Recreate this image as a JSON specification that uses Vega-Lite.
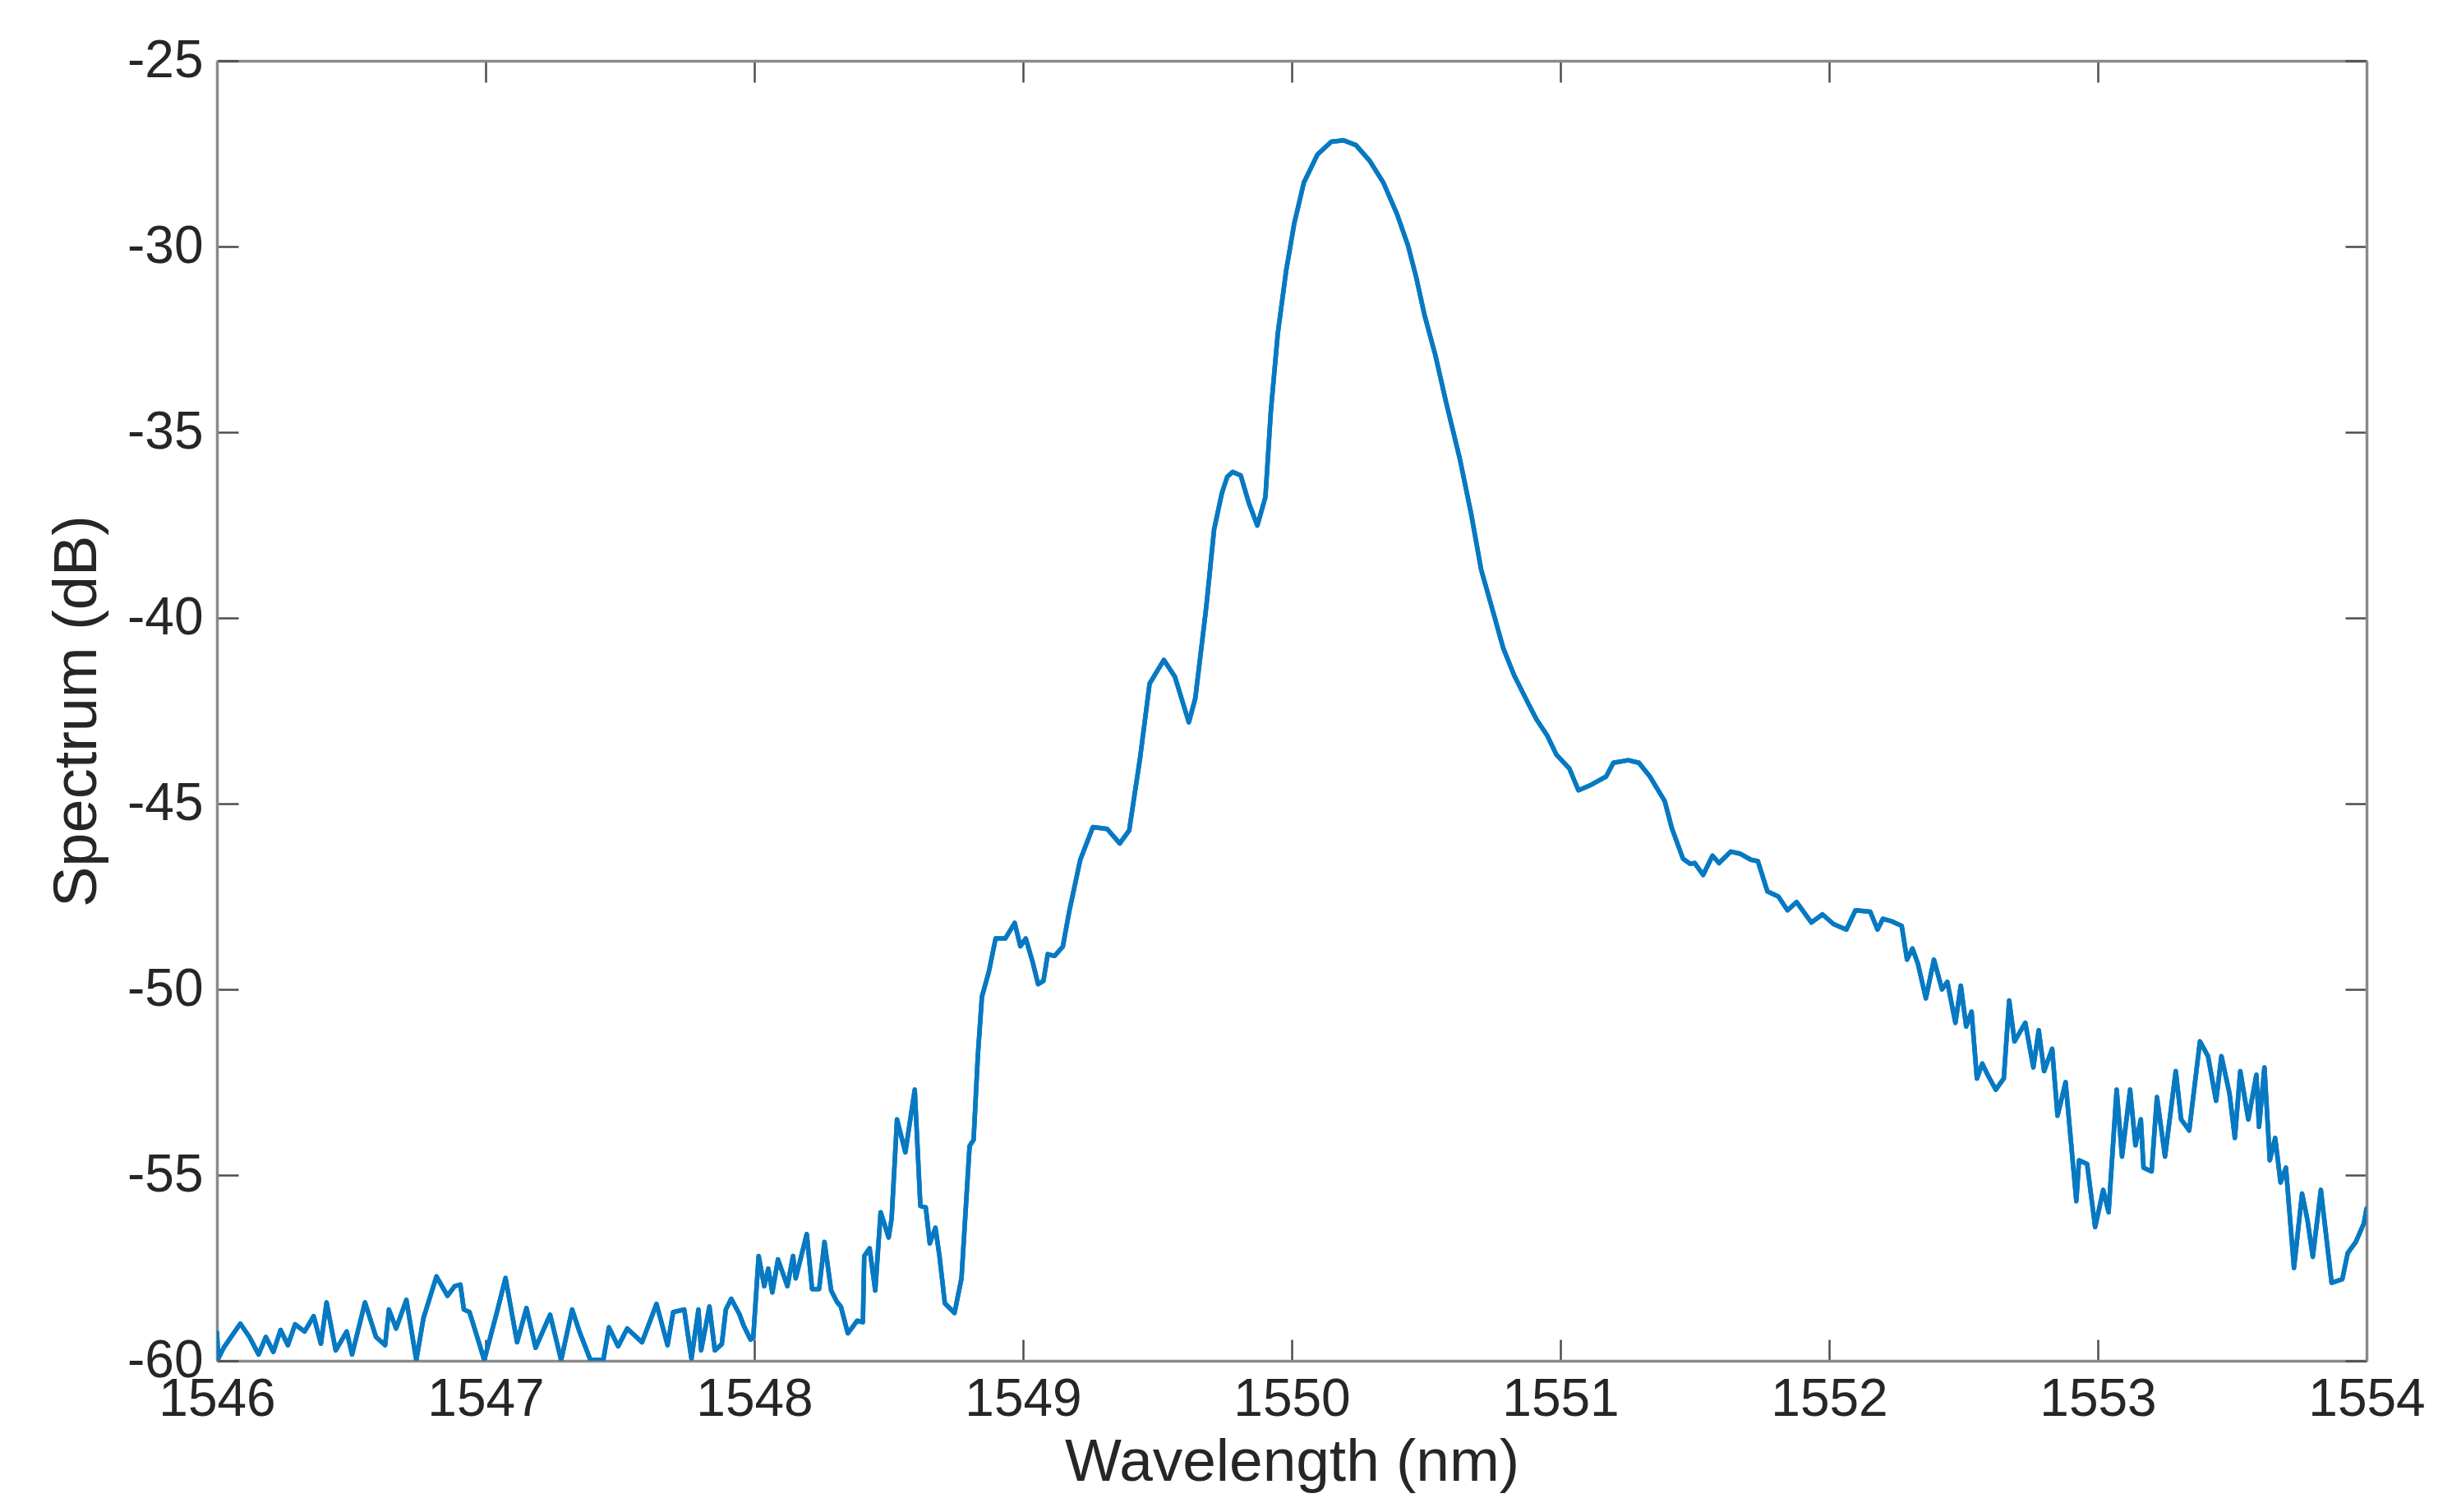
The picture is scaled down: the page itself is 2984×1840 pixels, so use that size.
{
  "$schema": "https://vega.github.io/schema/vega-lite/v6.json",
  "width": 2616,
  "height": 1582,
  "autosize": {"type": "none"},
  "padding": {"left": 264, "top": 74, "right": 104, "bottom": 184},
  "background": "white",
  "config": {"view": {"stroke": null}, "font": "Liberation Sans"},
  "data": {"values": [
    {"wl":1546.000,"db":-59.24},{"wl":1546.005,"db":-59.94},{"wl":1546.025,"db":-59.65},{"wl":1546.087,"db":-59.00},
    {"wl":1546.121,"db":-59.36},{"wl":1546.155,"db":-59.83},{"wl":1546.182,"db":-59.36},{"wl":1546.210,"db":-59.76},
    {"wl":1546.237,"db":-59.17},{"wl":1546.264,"db":-59.58},{"wl":1546.291,"db":-59.02},{"wl":1546.326,"db":-59.21},
    {"wl":1546.360,"db":-58.80},{"wl":1546.387,"db":-59.54},{"wl":1546.408,"db":-58.43},{"wl":1546.442,"db":-59.72},
    {"wl":1546.483,"db":-59.21},{"wl":1546.503,"db":-59.83},{"wl":1546.551,"db":-58.43},{"wl":1546.592,"db":-59.36},
    {"wl":1546.626,"db":-59.58},{"wl":1546.640,"db":-58.62},{"wl":1546.667,"db":-59.13},{"wl":1546.705,"db":-58.36},
    {"wl":1546.742,"db":-59.98},{"wl":1546.769,"db":-58.84},{"wl":1546.817,"db":-57.73},{"wl":1546.858,"db":-58.25},
    {"wl":1546.885,"db":-57.99},{"wl":1546.906,"db":-57.95},{"wl":1546.919,"db":-58.62},{"wl":1546.940,"db":-58.69},
    {"wl":1546.995,"db":-59.98},{"wl":1547.042,"db":-58.69},{"wl":1547.074,"db":-57.77},{"wl":1547.117,"db":-59.50},
    {"wl":1547.152,"db":-58.58},{"wl":1547.186,"db":-59.65},{"wl":1547.240,"db":-58.76},{"wl":1547.281,"db":-59.98},
    {"wl":1547.322,"db":-58.62},{"wl":1547.349,"db":-59.21},{"wl":1547.390,"db":-59.98},{"wl":1547.438,"db":-59.98},
    {"wl":1547.459,"db":-59.10},{"wl":1547.493,"db":-59.61},{"wl":1547.527,"db":-59.13},{"wl":1547.582,"db":-59.50},
    {"wl":1547.636,"db":-58.47},{"wl":1547.677,"db":-59.58},{"wl":1547.698,"db":-58.69},{"wl":1547.739,"db":-58.62},
    {"wl":1547.766,"db":-59.94},{"wl":1547.792,"db":-58.62},{"wl":1547.802,"db":-59.72},{"wl":1547.833,"db":-58.54},
    {"wl":1547.853,"db":-59.72},{"wl":1547.879,"db":-59.55},{"wl":1547.894,"db":-58.62},{"wl":1547.914,"db":-58.33},
    {"wl":1547.945,"db":-58.75},{"wl":1547.960,"db":-59.05},{"wl":1547.986,"db":-59.43},{"wl":1547.996,"db":-59.38},
    {"wl":1548.016,"db":-57.18},{"wl":1548.037,"db":-57.99},{"wl":1548.052,"db":-57.52},{"wl":1548.067,"db":-58.16},
    {"wl":1548.088,"db":-57.27},{"wl":1548.123,"db":-57.99},{"wl":1548.144,"db":-57.18},{"wl":1548.154,"db":-57.78},
    {"wl":1548.195,"db":-56.59},{"wl":1548.215,"db":-58.07},{"wl":1548.241,"db":-58.07},{"wl":1548.261,"db":-56.80},
    {"wl":1548.286,"db":-58.11},{"wl":1548.307,"db":-58.41},{"wl":1548.322,"db":-58.54},{"wl":1548.348,"db":-59.26},
    {"wl":1548.383,"db":-58.92},{"wl":1548.404,"db":-58.96},{"wl":1548.409,"db":-57.18},{"wl":1548.429,"db":-56.97},
    {"wl":1548.450,"db":-58.11},{"wl":1548.470,"db":-56.00},{"wl":1548.500,"db":-56.68},{"wl":1548.511,"db":-56.17},
    {"wl":1548.531,"db":-53.50},{"wl":1548.562,"db":-54.39},{"wl":1548.597,"db":-52.70},{"wl":1548.618,"db":-55.83},
    {"wl":1548.638,"db":-55.87},{"wl":1548.653,"db":-56.84},{"wl":1548.674,"db":-56.42},{"wl":1548.689,"db":-57.18},
    {"wl":1548.709,"db":-58.45},{"wl":1548.745,"db":-58.71},{"wl":1548.771,"db":-57.78},{"wl":1548.801,"db":-54.22},
    {"wl":1548.816,"db":-54.05},{"wl":1548.832,"db":-51.76},{"wl":1548.847,"db":-50.20},{"wl":1548.873,"db":-49.52},
    {"wl":1548.898,"db":-48.63},{"wl":1548.934,"db":-48.63},{"wl":1548.969,"db":-48.21},{"wl":1548.990,"db":-48.84},
    {"wl":1549.010,"db":-48.63},{"wl":1549.036,"db":-49.27},{"wl":1549.056,"db":-49.86},{"wl":1549.076,"db":-49.77},
    {"wl":1549.092,"db":-49.05},{"wl":1549.117,"db":-49.10},{"wl":1549.148,"db":-48.85},{"wl":1549.172,"db":-47.90},
    {"wl":1549.213,"db":-46.51},{"wl":1549.260,"db":-45.63},{"wl":1549.313,"db":-45.68},{"wl":1549.360,"db":-46.07},
    {"wl":1549.395,"db":-45.72},{"wl":1549.436,"db":-43.75},{"wl":1549.471,"db":-41.77},{"wl":1549.524,"db":-41.13},
    {"wl":1549.565,"db":-41.58},{"wl":1549.617,"db":-42.81},{"wl":1549.641,"db":-42.17},{"wl":1549.682,"db":-39.70},
    {"wl":1549.711,"db":-37.62},{"wl":1549.740,"db":-36.64},{"wl":1549.760,"db":-36.20},{"wl":1549.780,"db":-36.07},
    {"wl":1549.810,"db":-36.16},{"wl":1549.841,"db":-36.92},{"wl":1549.872,"db":-37.51},{"wl":1549.902,"db":-36.75},
    {"wl":1549.922,"db":-34.46},{"wl":1549.948,"db":-32.35},{"wl":1549.979,"db":-30.66},{"wl":1550.009,"db":-29.39},
    {"wl":1550.045,"db":-28.28},{"wl":1550.096,"db":-27.52},{"wl":1550.147,"db":-27.18},{"wl":1550.193,"db":-27.14},
    {"wl":1550.239,"db":-27.27},{"wl":1550.290,"db":-27.69},{"wl":1550.341,"db":-28.28},{"wl":1550.392,"db":-29.13},
    {"wl":1550.433,"db":-29.98},{"wl":1550.463,"db":-30.82},{"wl":1550.494,"db":-31.84},{"wl":1550.535,"db":-32.94},
    {"wl":1550.575,"db":-34.21},{"wl":1550.626,"db":-35.73},{"wl":1550.667,"db":-37.17},{"wl":1550.705,"db":-38.70},
    {"wl":1550.753,"db":-39.93},{"wl":1550.787,"db":-40.81},{"wl":1550.828,"db":-41.55},{"wl":1550.869,"db":-42.14},
    {"wl":1550.910,"db":-42.72},{"wl":1550.951,"db":-43.17},{"wl":1550.985,"db":-43.68},{"wl":1551.033,"db":-44.05},
    {"wl":1551.067,"db":-44.64},{"wl":1551.115,"db":-44.49},{"wl":1551.170,"db":-44.27},{"wl":1551.197,"db":-43.90},
    {"wl":1551.252,"db":-43.83},{"wl":1551.292,"db":-43.90},{"wl":1551.333,"db":-44.27},{"wl":1551.388,"db":-44.93},
    {"wl":1551.415,"db":-45.67},{"wl":1551.456,"db":-46.48},{"wl":1551.483,"db":-46.62},{"wl":1551.500,"db":-46.60},
    {"wl":1551.531,"db":-46.92},{"wl":1551.566,"db":-46.40},{"wl":1551.590,"db":-46.60},{"wl":1551.634,"db":-46.29},
    {"wl":1551.670,"db":-46.35},{"wl":1551.709,"db":-46.51},{"wl":1551.735,"db":-46.55},{"wl":1551.770,"db":-47.36},
    {"wl":1551.811,"db":-47.50},{"wl":1551.845,"db":-47.87},{"wl":1551.879,"db":-47.65},{"wl":1551.934,"db":-48.20},
    {"wl":1551.975,"db":-47.98},{"wl":1552.016,"db":-48.24},{"wl":1552.064,"db":-48.39},{"wl":1552.098,"db":-47.87},
    {"wl":1552.153,"db":-47.91},{"wl":1552.180,"db":-48.39},{"wl":1552.200,"db":-48.10},{"wl":1552.230,"db":-48.16},
    {"wl":1552.270,"db":-48.29},{"wl":1552.290,"db":-49.20},{"wl":1552.310,"db":-48.90},{"wl":1552.330,"db":-49.30},
    {"wl":1552.360,"db":-50.24},{"wl":1552.390,"db":-49.20},{"wl":1552.420,"db":-50.00},{"wl":1552.440,"db":-49.80},
    {"wl":1552.470,"db":-50.90},{"wl":1552.490,"db":-49.90},{"wl":1552.510,"db":-51.00},{"wl":1552.530,"db":-50.60},
    {"wl":1552.550,"db":-52.40},{"wl":1552.570,"db":-52.00},{"wl":1552.590,"db":-52.30},{"wl":1552.620,"db":-52.70},
    {"wl":1552.650,"db":-52.40},{"wl":1552.670,"db":-50.30},{"wl":1552.690,"db":-51.40},{"wl":1552.730,"db":-50.90},
    {"wl":1552.760,"db":-52.10},{"wl":1552.780,"db":-51.10},{"wl":1552.800,"db":-52.20},{"wl":1552.830,"db":-51.60},
    {"wl":1552.850,"db":-53.40},{"wl":1552.880,"db":-52.50},{"wl":1552.920,"db":-55.70},{"wl":1552.930,"db":-54.60},
    {"wl":1552.960,"db":-54.70},{"wl":1552.990,"db":-56.40},{"wl":1553.020,"db":-55.40},{"wl":1553.040,"db":-56.00},
    {"wl":1553.070,"db":-52.70},{"wl":1553.090,"db":-54.50},{"wl":1553.120,"db":-52.70},{"wl":1553.140,"db":-54.20},
    {"wl":1553.160,"db":-53.50},{"wl":1553.170,"db":-54.80},{"wl":1553.200,"db":-54.90},{"wl":1553.220,"db":-52.90},
    {"wl":1553.250,"db":-54.50},{"wl":1553.290,"db":-52.20},{"wl":1553.310,"db":-53.50},{"wl":1553.340,"db":-53.80},
    {"wl":1553.380,"db":-51.40},{"wl":1553.410,"db":-51.80},{"wl":1553.440,"db":-53.00},{"wl":1553.460,"db":-51.80},
    {"wl":1553.490,"db":-52.80},{"wl":1553.510,"db":-54.00},{"wl":1553.530,"db":-52.20},{"wl":1553.560,"db":-53.50},
    {"wl":1553.590,"db":-52.30},{"wl":1553.600,"db":-53.70},{"wl":1553.620,"db":-52.10},{"wl":1553.640,"db":-54.60},
    {"wl":1553.660,"db":-54.00},{"wl":1553.680,"db":-55.20},{"wl":1553.700,"db":-54.80},{"wl":1553.730,"db":-57.50},
    {"wl":1553.760,"db":-55.50},{"wl":1553.780,"db":-56.20},{"wl":1553.800,"db":-57.20},{"wl":1553.830,"db":-55.40},
    {"wl":1553.870,"db":-57.90},{"wl":1553.910,"db":-57.80},{"wl":1553.930,"db":-57.10},{"wl":1553.960,"db":-56.80},
    {"wl":1553.990,"db":-56.30},{"wl":1554.000,"db":-55.90}
  ]},
  "layer": [
    {
      "mark": {"type": "line", "color": "#0779C2", "strokeWidth": 5.5, "strokeJoin": "round", "strokeCap": "round", "clip": true},
      "encoding": {
        "x": {
          "field": "wl", "type": "quantitative",
          "scale": {"domain": [1546, 1554], "nice": false, "zero": false},
          "axis": {
            "orient": "bottom", "values": [1546, 1547, 1548, 1549, 1550, 1551, 1552, 1553, 1554],
            "labelExpr": "'' + datum.value", "labelFont": "Liberation Sans", "labelFontSize": 64, "labelColor": "#262626",
            "labelPadding": 41, "labelFlush": false, "labelOverlap": false,
            "tickSize": -26, "tickColor": "#4d4d4d", "tickWidth": 2.5,
            "domainColor": "#8a8a8a", "domainWidth": 3.5, "grid": false,
            "title": "Wavelength (nm)", "titleFont": "Liberation Sans", "titleFontSize": 73, "titleFontWeight": "normal",
            "titleColor": "#262626", "titlePadding": 8
          }
        },
        "y": {
          "field": "db", "type": "quantitative",
          "scale": {"domain": [-60, -25], "nice": false, "zero": false},
          "axis": {
            "orient": "left", "values": [-60, -55, -50, -45, -40, -35, -30, -25],
            "labelExpr": "'' + datum.value", "labelFont": "Liberation Sans", "labelFontSize": 64, "labelColor": "#262626",
            "labelPadding": 43, "labelFlush": false, "labelOverlap": false,
            "tickSize": -26, "tickColor": "#4d4d4d", "tickWidth": 2.5,
            "domainColor": "#8a8a8a", "domainWidth": 3.5, "grid": false,
            "title": "Spectrum (dB)", "titleFont": "Liberation Sans", "titleFontSize": 74, "titleFontWeight": "normal",
            "titleColor": "#262626", "titlePadding": 22
          }
        }
      }
    },
    {
      "mark": {"type": "line", "color": "#0779C2", "strokeWidth": 5.5, "strokeJoin": "round", "strokeCap": "round", "clip": true},
      "encoding": {
        "x": {
          "field": "wl", "type": "quantitative",
          "scale": {"domain": [1546, 1554], "nice": false, "zero": false},
          "axis": {
            "orient": "top", "values": [1546, 1547, 1548, 1549, 1550, 1551, 1552, 1553, 1554],
            "labels": false, "title": null,
            "tickSize": -26, "tickColor": "#4d4d4d", "tickWidth": 2.5,
            "domainColor": "#8a8a8a", "domainWidth": 3.5, "grid": false
          }
        },
        "y": {
          "field": "db", "type": "quantitative",
          "scale": {"domain": [-60, -25], "nice": false, "zero": false},
          "axis": {
            "orient": "right", "values": [-60, -55, -50, -45, -40, -35, -30, -25],
            "labels": false, "title": null,
            "tickSize": -26, "tickColor": "#4d4d4d", "tickWidth": 2.5,
            "domainColor": "#8a8a8a", "domainWidth": 3.5, "grid": false
          }
        }
      }
    }
  ],
  "resolve": {"axis": {"x": "independent", "y": "independent"}}
}
